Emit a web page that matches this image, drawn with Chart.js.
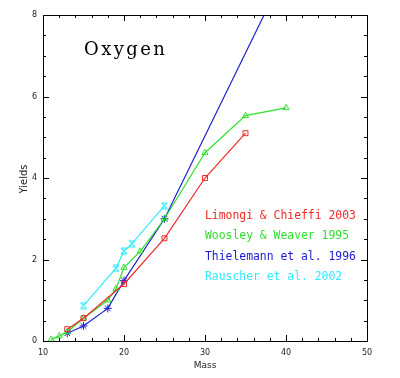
<!DOCTYPE html>
<html lang="en">
<head>
<meta charset="UTF-8">
<title>Oxygen yields</title>
<script src="https://cdn.jsdelivr.net/npm/chart.js"></script>
<style>
    body { margin: 0; background: #ffffff; }
    #wrap { width: 400px; height: 378px; }
</style>
</head>
<body>
<div id="wrap"><canvas id="yieldChart" width="400" height="378"></canvas></div>
<script>
// masses and oxygen yields
const massLC = [13, 15, 20, 25, 30, 35];
const yieldLC = [0.29, 0.56, 1.40, 2.52, 4.00, 5.10];

const massWW = [11, 12, 13, 15, 18, 19, 20, 22, 25, 30, 35, 40];
const yieldWW = [0.04, 0.12, 0.22, 0.56, 1.00, 1.28, 1.80, 2.20, 3.00, 4.62, 5.53, 5.72];

const massTH = [13, 15, 18, 20, 25, 40];
const yieldTH = [0.19, 0.37, 0.80, 1.48, 3.00, 9.10];

const massRA = [15, 19, 20, 21, 25];
const yieldRA = [0.87, 1.78, 2.21, 2.39, 3.32];

const seriesNames = ['Limongi & Chieffi 2003', 'Woosley & Weaver 1995', 'Thielemann et al. 1996', 'Rauscher et al. 2002'];
const seriesColors = ['#f02828', '#2ee02e', '#2020d0', '#30eaff'];

const xTicks = [10, 20, 30, 40, 50];
const yTicks = [0, 2, 4, 6, 8];

function toPoints(xs, ys) {
    return xs.map((x, i) => ({ x: x, y: ys[i] }));
}

// hourglass marker for the Rauscher points
function hourglass(color) {
    const c = document.createElement('canvas');
    c.width = 8; c.height = 8;
    const g = c.getContext('2d');
    g.strokeStyle = color;
    g.lineWidth = 1.2;
    g.beginPath();
    g.moveTo(1, 1); g.lineTo(7, 1);
    g.moveTo(1, 7); g.lineTo(7, 7);
    g.moveTo(1, 1); g.lineTo(7, 7);
    g.moveTo(7, 1); g.lineTo(1, 7);
    g.stroke();
    return c;
}

const framePlugin = {
    id: 'frame',
    afterDraw(chart) {
        const ctx = chart.ctx;
        const a = chart.chartArea;
        const xs = chart.scales.x, ys = chart.scales.y;
        ctx.save();
        ctx.strokeStyle = '#000';
        ctx.lineWidth = 1;
        ctx.strokeRect(a.left + 0.5, a.top + 0.5, a.right - a.left, a.bottom - a.top);

        ctx.beginPath();
        for (let v = 10; v <= 50; v += 2) {
            const px = Math.round(xs.getPixelForValue(v)) + 0.5;
            const len = v % 10 === 0 ? 6 : 3;
            ctx.moveTo(px, a.bottom); ctx.lineTo(px, a.bottom - len);
            ctx.moveTo(px, a.top); ctx.lineTo(px, a.top + len);
        }
        for (let v = 0; v <= 8; v += 0.5) {
            const py = Math.round(ys.getPixelForValue(v)) + 0.5;
            const len = v % 2 === 0 ? 6 : 3;
            ctx.moveTo(a.left, py); ctx.lineTo(a.left + len, py);
            ctx.moveTo(a.right, py); ctx.lineTo(a.right - len, py);
        }
        ctx.stroke();

        // axis titles
        ctx.fillStyle = '#222';
        ctx.font = '9px "DejaVu Sans"';
        ctx.textAlign = 'center';
        ctx.textBaseline = 'middle';
        ctx.fillText('Mass', (a.left + a.right) / 2, 366);
        ctx.save();
        ctx.translate(24, 179);
        ctx.rotate(-Math.PI / 2);
        ctx.font = '10px "DejaVu Sans"';
        ctx.fillText('Yields', 0, 0);
        ctx.restore();

        // element name
        ctx.fillStyle = '#000';
        ctx.font = '18px "DejaVu Serif"';
        ctx.letterSpacing = '2.4px';
        ctx.textAlign = 'left';
        ctx.textBaseline = 'alphabetic';
        ctx.fillText('Oxygen', 84, 55);
        ctx.letterSpacing = '0px';

        // key
        ctx.font = '11.4px "DejaVu Sans Mono"';
        ctx.textBaseline = 'middle';
        const rows = [216, 236, 257, 277];
        seriesNames.forEach((name, i) => {
            ctx.fillStyle = seriesColors[i];
            ctx.fillText(name, 205, rows[i]);
        });
        ctx.restore();
    }
};

new Chart(document.getElementById('yieldChart'), {
    type: 'scatter',
    data: {
        datasets: [
            {
                label: seriesNames[0],
                data: toPoints(massLC, yieldLC),
                showLine: true,
                borderColor: seriesColors[0],
                backgroundColor: 'transparent',
                borderWidth: 1.2,
                pointStyle: 'rect',
                pointRadius: 3.5,
                pointBorderWidth: 1,
                clip: false
            },
            {
                label: seriesNames[1],
                data: toPoints(massWW, yieldWW),
                showLine: true,
                borderColor: seriesColors[1],
                backgroundColor: 'transparent',
                borderWidth: 1.2,
                pointStyle: 'triangle',
                pointRadius: 3.5,
                pointBorderWidth: 1,
                clip: false
            },
            {
                label: seriesNames[2],
                data: toPoints(massTH, yieldTH),
                showLine: true,
                borderColor: seriesColors[2],
                backgroundColor: 'transparent',
                borderWidth: 1.2,
                pointStyle: 'star',
                pointRadius: 4,
                pointBorderWidth: 1,
                clip: 0
            },
            {
                label: seriesNames[3],
                data: toPoints(massRA, yieldRA),
                showLine: true,
                borderColor: seriesColors[3],
                backgroundColor: 'transparent',
                borderWidth: 1.2,
                pointStyle: hourglass(seriesColors[3]),
                clip: false
            }
        ]
    },
    options: {
        responsive: false,
        animation: false,
        layout: { padding: { top: 15, right: 33, left: 0, bottom: 0 } },
        plugins: {
            legend: { display: false },
            tooltip: { enabled: false }
        },
        scales: {
            x: {
                type: 'linear',
                min: 10,
                max: 50,
                afterBuildTicks: s => { s.ticks = xTicks.map(v => ({ value: v })); },
                afterFit: s => { s.height = 37; },
                grid: { display: false, drawTicks: false },
                border: { display: false },
                ticks: { padding: 7, color: '#222', font: { size: 8, family: 'DejaVu Sans' }, maxRotation: 0 }
            },
            y: {
                type: 'linear',
                min: 0,
                max: 8,
                afterBuildTicks: s => { s.ticks = yTicks.map(v => ({ value: v })); },
                afterFit: s => { s.width = 43; },
                grid: { display: false, drawTicks: false },
                border: { display: false },
                ticks: { padding: 6, color: '#222', font: { size: 8, family: 'DejaVu Sans' } }
            }
        }
    },
    plugins: [framePlugin]
});
</script>
</body>
</html>
